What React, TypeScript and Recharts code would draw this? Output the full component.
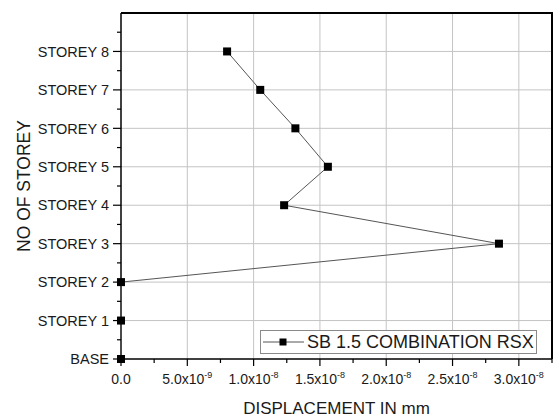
import { ScatterChart, Scatter, XAxis, YAxis, ReferenceLine } from "recharts";

const storeyLabels = ["BASE", "STOREY 1", "STOREY 2", "STOREY 3", "STOREY 4", "STOREY 5", "STOREY 6", "STOREY 7", "STOREY 8"];
const storeyLevel = [0, 1, 2, 3, 4, 5, 6, 7, 8];
const displacement = [0, 0, 0, 2.85e-8, 1.23e-8, 1.56e-8, 1.315e-8, 1.05e-8, 0.8e-8];

const xTicks = [0, 2.5e-9, 5e-9, 7.5e-9, 1e-8, 1.25e-8, 1.5e-8, 1.75e-8, 2e-8, 2.25e-8, 2.5e-8, 2.75e-8, 3e-8, 3.25e-8];
const xGrid = [5e-9, 1e-8, 1.5e-8, 2e-8, 2.5e-8, 3e-8];
const yTicks = [0, 0.5, 1, 1.5, 2, 2.5, 3, 3.5, 4, 4.5, 5, 5.5, 6, 6.5, 7, 7.5, 8, 8.5];
const yGrid = [1, 2, 3, 4, 5, 6, 7, 8];
const X_MAX = 3.25e-8;
const Y_MAX = 9;

const SERIES_NAME = "SB 1.5 COMBINATION RSX";
const FONT = "'Liberation Sans', Arial, sans-serif";
const TEXT = "#1a1a1a";

// plot box, used for the chart margins and the frame overlay
const PLOT = { left: 121, top: 13, right: 552, bottom: 359 };

const data = storeyLevel.map((y, i) => ({ x: displacement[i], y, name: storeyLabels[i] }));

const isMajorX = (v: number) => {
  const r = v / 5e-9;
  return Math.abs(r - Math.round(r)) < 1e-6;
};

const XTick = ({ x, y, payload }: any) => {
  const v = payload.value as number;
  const major = isMajorX(v);
  let label = null;
  if (major) {
    if (v === 0) {
      label = <text x={x} y={y + 25} textAnchor="middle" fontSize={14} fill={TEXT} fontFamily={FONT}>0.0</text>;
    } else {
      const exp = Math.floor(Math.log10(v) + 1e-9);
      const mant = (v / Math.pow(10, exp)).toFixed(1);
      label = (
        <text x={x} y={y + 25} textAnchor="middle" fontSize={14} fill={TEXT} fontFamily={FONT}>
          {mant}x10<tspan dy={-6} fontSize={9}>{exp}</tspan>
        </text>
      );
    }
  }
  return (
    <g>
      <line x1={x} x2={x} y1={y} y2={y + (major ? 7 : 4)} stroke="#000" strokeWidth={1.2} />
      {label}
    </g>
  );
};

const YTick = ({ x, y, payload }: any) => {
  const v = payload.value as number;
  const major = Number.isInteger(v);
  return (
    <g>
      <line x1={x - (major ? 8 : 4)} x2={x} y1={y} y2={y} stroke="#000" strokeWidth={1.2} />
      {major && (
        <text x={x - 12} y={y} dy="0.36em" textAnchor="end" fontSize={14.5} fill={TEXT} fontFamily={FONT}>
          {storeyLabels[v]}
        </text>
      )}
    </g>
  );
};

const SquareDot = (props: any) => {
  const { cx, cy } = props;
  return <rect x={cx - 4} y={cy - 4} width={8} height={8} fill="#000" />;
};

export default function App() {
  return (
    <div style={{ position: "absolute", left: 0, top: 0, width: 556, height: 419, background: "#fff", fontFamily: FONT }}>
      <ScatterChart width={556} height={419} margin={{ top: PLOT.top, right: 556 - PLOT.right, bottom: 0, left: 0 }}>
        <XAxis
          type="number"
          dataKey="x"
          domain={[0, X_MAX]}
          ticks={xTicks}
          interval={0}
          height={419 - PLOT.bottom}
          tickSize={0}
          tickMargin={0}
          tick={<XTick />}
          axisLine={{ stroke: "#000", strokeWidth: 1.5 }}
          label={({ viewBox }: any) => (
            <text x={viewBox.x + viewBox.width / 2} y={viewBox.y + 55} textAnchor="middle" fontSize={17} fill={TEXT} fontFamily={FONT}>
              DISPLACEMENT IN mm
            </text>
          )}
        />
        <YAxis
          type="number"
          dataKey="y"
          domain={[0, Y_MAX]}
          ticks={yTicks}
          interval={0}
          width={PLOT.left}
          tickSize={0}
          tickMargin={0}
          tick={<YTick />}
          axisLine={{ stroke: "#000", strokeWidth: 1.5 }}
          label={({ viewBox }: any) => {
            const cx = 24;
            const cy = viewBox.y + viewBox.height / 2;
            return (
              <text x={cx} y={cy} transform={`rotate(-90, ${cx}, ${cy})`} textAnchor="middle" dy="0.36em" fontSize={17.5} fill={TEXT} fontFamily={FONT}>
                NO OF STOREY
              </text>
            );
          }}
        />
        {xGrid.map((v) => (
          <ReferenceLine key={"gx" + v} x={v} stroke="#c4c4c4" strokeWidth={1} />
        ))}
        {yGrid.map((v) => (
          <ReferenceLine key={"gy" + v} y={v} stroke="#c4c4c4" strokeWidth={1} />
        ))}
        <ReferenceLine y={Y_MAX} stroke="#000" strokeWidth={1.5} ifOverflow="visible" />
        <ReferenceLine x={X_MAX} stroke="#000" strokeWidth={1.5} ifOverflow="visible" />
        <Scatter
          name={SERIES_NAME}
          data={data}
          line={{ stroke: "#555", strokeWidth: 1 }}
          lineType="joint"
          shape={<SquareDot />}
          isAnimationActive={false}
        />
      </ScatterChart>
      {/* top and right edges of the plot frame */}
      <div
        style={{
          position: "absolute",
          left: PLOT.left,
          top: PLOT.top - 1,
          width: PLOT.right - PLOT.left + 1,
          height: PLOT.bottom - PLOT.top + 1,
          boxSizing: "border-box",
          borderTop: "2px solid #000",
          borderRight: "2px solid #000",
          pointerEvents: "none",
          zIndex: 5,
        }}
      />
      <div
        style={{
          position: "absolute",
          left: 260,
          top: 330,
          width: 277,
          height: 24,
          boxSizing: "border-box",
          border: "1px solid #8a8a8a",
          background: "#fff",
          display: "flex",
          alignItems: "center",
          zIndex: 6,
        }}
      >
        <svg width={46} height={22} style={{ flex: "none" }}>
          <line x1={2} x2={43} y1={11} y2={11} stroke="#555" strokeWidth={1} />
          <rect x={18.5} y={7.5} width={7} height={7} fill="#000" />
        </svg>
        <span style={{ fontSize: 18, color: TEXT, whiteSpace: "nowrap", lineHeight: "22px" }}>{SERIES_NAME}</span>
      </div>
    </div>
  );
}
